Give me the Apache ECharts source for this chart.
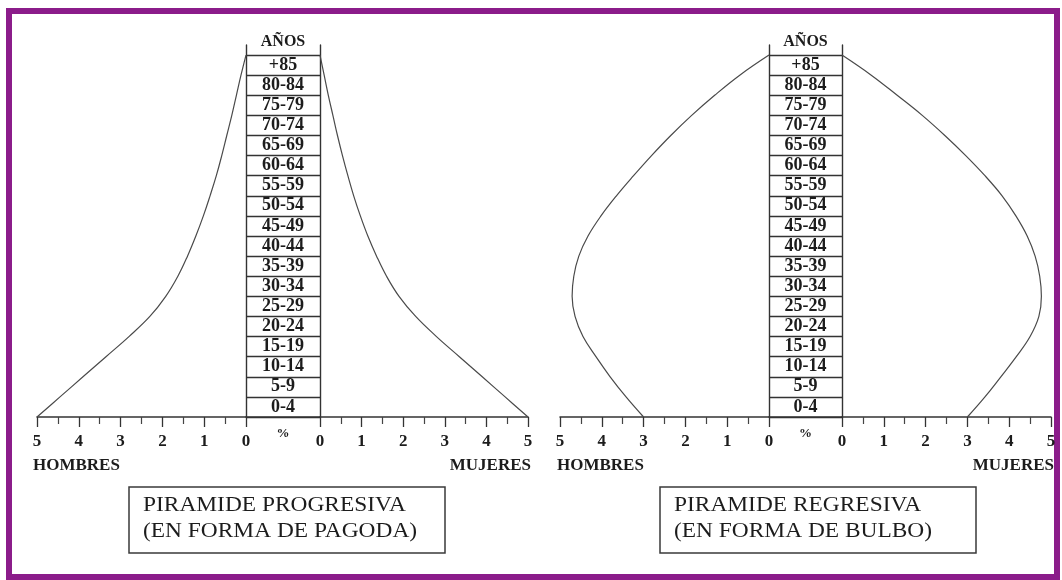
<!DOCTYPE html>
<html>
<head>
<meta charset="utf-8">
<script src="https://cdn.jsdelivr.net/npm/echarts@6/dist/echarts.min.js"></script>
<style>
  html, body { margin: 0; padding: 0; background: #fff; }
  #chart { width: 1062px; height: 580px; }
</style>
</head>
<body>
<div id="chart"></div>
<script>
// grupos de edad, de abajo hacia arriba
const ageGroups = ['0-4', '5-9', '10-14', '15-19', '20-24', '25-29', '30-34', '35-39', '40-44',
  '45-49', '50-54', '55-59', '60-64', '65-69', '70-74', '75-79', '80-84', '+85'];
const percentTicks = [0, 1, 2, 3, 4, 5];

// % en cada limite entre grupos (0 = base de 0-4, 18 = techo de +85)
const progresivaHombres = [5.0, 4.45, 3.9, 3.35, 2.8, 2.3, 1.92, 1.63, 1.4, 1.2, 1.02, 0.86, 0.71, 0.58, 0.46, 0.34, 0.23, 0.12, 0];
const progresivaMujeres = [5.0, 4.45, 3.9, 3.35, 2.8, 2.3, 1.9, 1.6, 1.36, 1.15, 0.97, 0.81, 0.67, 0.54, 0.42, 0.31, 0.2, 0.1, 0];
const regresivaHombres = [3.0, 3.42, 3.8, 4.14, 4.45, 4.64, 4.71, 4.67, 4.55, 4.33, 4.02, 3.65, 3.24, 2.81, 2.35, 1.85, 1.3, 0.7, 0];
const regresivaMujeres = [3.0, 3.42, 3.8, 4.17, 4.5, 4.71, 4.77, 4.73, 4.62, 4.43, 4.16, 3.83, 3.42, 2.96, 2.46, 1.92, 1.32, 0.7, 0];

const serif = 'Liberation Serif';
const ink = '#1c1c1c';

const chart = echarts.init(document.getElementById('chart'), null, { renderer: 'canvas' });

// cada piramide: grid hombres, grid columna, grid mujeres
const pyramids = [
  { left: 37, colLeft: 246, colRight: 320, right: 528, hombres: progresivaHombres, mujeres: progresivaMujeres },
  { left: 560, colLeft: 769, colRight: 842, right: 1051, hombres: regresivaHombres, mujeres: regresivaMujeres }
];

const TOP = 45, BASE = 417, ROW_TOP = 55;
const grid = [], xAxis = [], yAxis = [], series = [];

function valueX(gi, inverse) {
  return {
    gridIndex: gi, type: 'value', min: 0, max: 5, interval: 1, inverse: inverse,
    axisLine: { show: true, lineStyle: { color: '#333', width: 1.5 } },
    axisTick: { show: true, length: 10, lineStyle: { color: '#333', width: 1.3 } },
    minorTick: { show: true, splitNumber: 2, length: 7, lineStyle: { color: '#444', width: 1.2 } },
    splitLine: { show: false },
    axisLabel: {
      margin: 16, fontFamily: serif, fontWeight: 'bold', fontSize: 17, color: ink,
      formatter: v => percentTicks.indexOf(v) >= 0 ? String(v) : ''
    }
  };
}

function sideY(gi, pos) {
  return {
    gridIndex: gi, type: 'value', min: 0, max: 18.5, position: pos,
    axisLine: { show: true, lineStyle: { color: '#333', width: 1.4 } },
    axisTick: { show: false }, axisLabel: { show: false }, splitLine: { show: false }
  };
}

pyramids.forEach((p, i) => {
  const g = i * 3;
  // hombres
  grid.push({ left: p.left, top: TOP, width: p.colLeft - p.left, height: BASE - TOP });
  xAxis.push(valueX(g, true));
  yAxis.push(sideY(g, 'right'));
  // columna de edades
  grid.push({ left: p.colLeft, top: ROW_TOP, width: p.colRight - p.colLeft, height: BASE - ROW_TOP });
  xAxis.push({
    gridIndex: g + 1, type: 'value', min: 0, max: 1, position: 'top',
    name: 'AÑOS', nameLocation: 'middle', nameGap: 5,
    nameTextStyle: { fontFamily: serif, fontWeight: 'bold', fontSize: 16, color: ink, verticalAlign: 'bottom' },
    axisLine: { show: false }, axisTick: { show: false }, axisLabel: { show: false }, splitLine: { show: false }
  });
  xAxis.push({
    gridIndex: g + 1, type: 'value', min: 0, max: 1, position: 'bottom',
    name: '%', nameLocation: 'middle', nameGap: 10,
    nameTextStyle: { fontFamily: serif, fontWeight: 'bold', fontSize: 13, color: ink, verticalAlign: 'top' },
    axisLine: { show: true, lineStyle: { color: '#333', width: 1.5 } },
    axisTick: { show: false }, axisLabel: { show: false }, splitLine: { show: false }
  });
  yAxis.push({
    gridIndex: g + 1, type: 'category', data: ageGroups, boundaryGap: true,
    axisLine: { show: false }, axisTick: { show: false },
    splitLine: { show: true, interval: 0, lineStyle: { color: '#333', width: 1.3 } },
    axisLabel: {
      interval: 0, align: 'center', margin: -(p.colRight - p.colLeft) / 2,
      fontFamily: serif, fontWeight: 'bold', fontSize: 18, color: ink
    }
  });
  // mujeres
  grid.push({ left: p.colRight, top: TOP, width: p.right - p.colRight, height: BASE - TOP });
  xAxis.push(valueX(g + 2, false));
  yAxis.push(sideY(g + 2, 'left'));

  const line = (data, gi) => ({
    type: 'line', smooth: 0.4, symbol: 'none', silent: true,
    xAxisIndex: xAxis.findIndex(a => a.gridIndex === gi), yAxisIndex: gi,
    lineStyle: { color: '#4a4a4a', width: 1.2 },
    data: data.map((v, k) => [v, k])
  });
  series.push(line(p.hombres, g));
  series.push(line(p.mujeres, g + 2));
});

function label(text, x, y, align) {
  return {
    type: 'text', x: x, y: y,
    style: { text: text, fontFamily: serif, fontWeight: 'bold', fontSize: 17, fill: ink, textAlign: align, textVerticalAlign: 'middle' }
  };
}

function box(x, l1, l2) {
  return [
    { type: 'rect', shape: { x: x, y: 487, width: 316, height: 66 }, style: { fill: 'none', stroke: '#3a3a3a', lineWidth: 1.5 } },
    { type: 'text', x: x + 14, y: 506, scaleX: 1.17,
      style: { text: l1, fontFamily: serif, fontSize: 20, fill: ink, textVerticalAlign: 'middle' } },
    { type: 'text', x: x + 14, y: 532, scaleX: 1.17,
      style: { text: l2, fontFamily: serif, fontSize: 20, fill: ink, textVerticalAlign: 'middle' } }
  ];
}

const option = {
  backgroundColor: '#fff',
  animation: false,
  grid: grid,
  xAxis: xAxis,
  yAxis: yAxis,
  series: series,
  graphic: [
    { type: 'rect', shape: { x: 9, y: 11, width: 1048, height: 566 }, style: { fill: 'none', stroke: '#8b1c8a', lineWidth: 6 } },
    label('HOMBRES', 33, 466, 'left'),
    label('MUJERES', 531, 466, 'right'),
    label('HOMBRES', 557, 466, 'left'),
    label('MUJERES', 1054, 466, 'right'),
    ...box(129, 'PIRAMIDE PROGRESIVA', '(EN FORMA DE PAGODA)'),
    ...box(660, 'PIRAMIDE REGRESIVA', '(EN FORMA DE BULBO)')
  ]
};

chart.setOption(option);
</script>
</body>
</html>
